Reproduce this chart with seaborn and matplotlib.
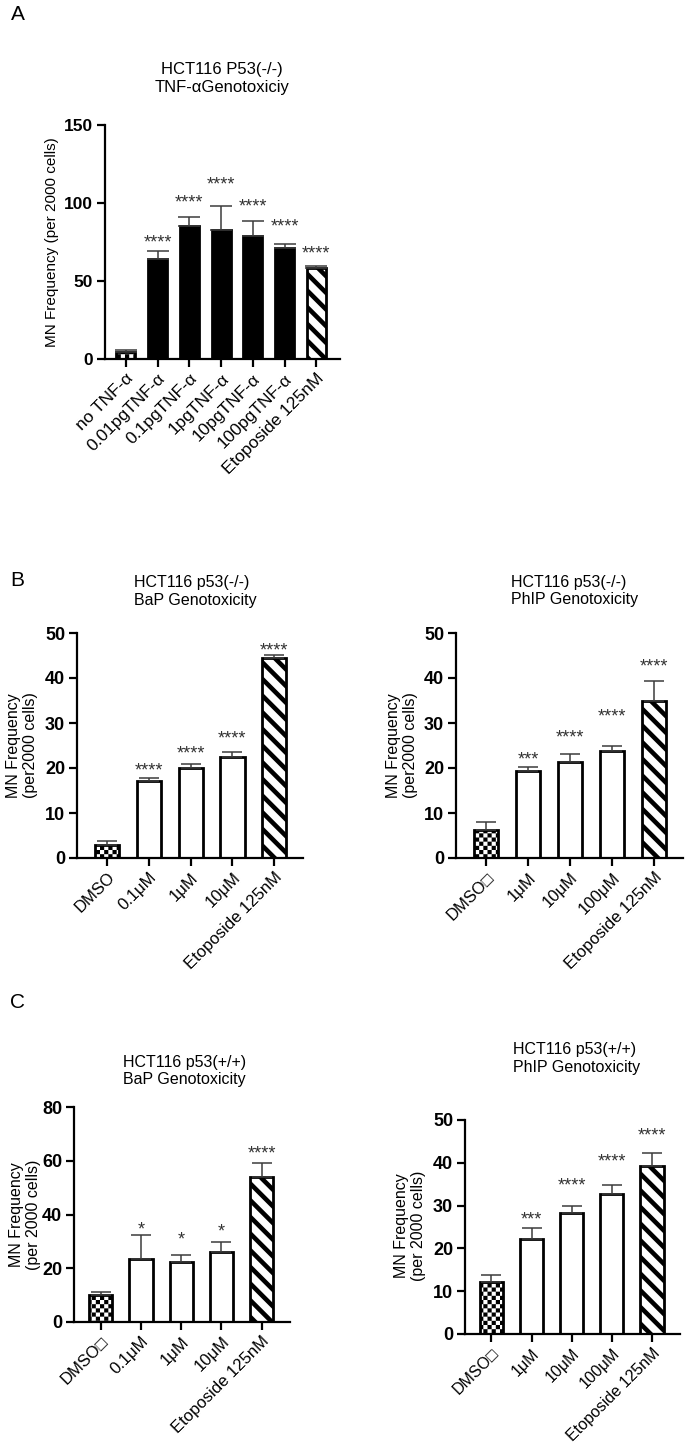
import numpy as np
import pandas as pd
import matplotlib
matplotlib.use("Agg")
import matplotlib.pyplot as plt
import matplotlib.hatch as mhatch
from matplotlib.path import Path
import seaborn as sns

# ---------------- data ----------------
a_labels = ["no TNF-α", "0.01pgTNF-α", "0.1pgTNF-α", "1pgTNF-α",
            "10pgTNF-α", "100pgTNF-α", "Etoposide 125nM"]
a_means = [4.3, 64.0, 85.4, 82.9, 78.8, 71.0, 58.5]
a_errs = [1.5, 5.4, 5.4, 15.1, 9.7, 2.9, 1.3]
a_stars = ["", "****", "****", "****", "****", "****", "****"]
a_star_y = [0, 78, 104, 115, 101, 88.5, 71]

bl_labels = ["DMSO", "0.1μM", "1μM", "10μM", "Etoposide 125nM"]
bl_means = [2.8, 17.1, 20.1, 22.4, 44.4]
bl_errs = [0.95, 0.7, 0.8, 1.2, 0.7]
bl_stars = ["", "****", "****", "****", "****"]
bl_star_y = [0, 20.7, 24.4, 27.8, 47.4]

br_labels = ["DMSO□", "1μM", "10μM", "100μM", "Etoposide 125nM"]
br_means = [6.3, 19.4, 21.4, 23.7, 34.8]
br_errs = [1.7, 0.8, 1.7, 1.1, 4.6]
br_stars = ["", "***", "****", "****", "****"]
br_star_y = [0, 23.0, 28.0, 32.6, 43.8]

cl_labels = ["DMSO□", "0.1μM", "1μM", "10μM", "Etoposide 125nM"]
cl_means = [10.1, 23.4, 22.4, 25.9, 54.0]
cl_errs = [1.2, 9.0, 2.6, 4.0, 5.3]
cl_stars = ["", "*", "*", "*", "****"]
cl_star_y = [0, 36.4, 32.7, 35.5, 64.5]

cr_labels = ["DMSO□", "1μM", "10μM", "100μM", "Etoposide 125nM"]
cr_means = [12.2, 22.2, 28.3, 32.8, 39.3]
cr_errs = [1.7, 2.6, 1.5, 1.9, 3.0]
cr_stars = ["", "***", "****", "****", "****"]
cr_star_y = [0, 27.9, 35.9, 41.6, 47.7]

# ---------------- checkerboard hatch ----------------
class CheckerHatch(mhatch.HatchPatternBase):
    def __init__(self, hatch, density):
        n = int(hatch.count('.') * density)
        if n % 2:
            n += 1
        self.n = n
        self.num_vertices = (n * n // 2) * 5

    def set_vertices_and_codes(self, vertices, codes):
        s = 1.0 / self.n
        sq = np.array([[0, 0], [s, 0], [s, s], [0, s], [0, 0]], float)
        cc = [Path.MOVETO, Path.LINETO, Path.LINETO, Path.LINETO, Path.CLOSEPOLY]
        k = 0
        for i in range(self.n):
            for j in range(self.n):
                if (i + j) % 2 == 0:
                    vertices[k:k + 5] = sq + [i * s, j * s]
                    codes[k:k + 5] = cc
                    k += 5

mhatch._hatch_types = [t for t in mhatch._hatch_types
                       if t is not mhatch.SmallFilledCircles] + [CheckerHatch]

# ---------------- style ----------------
sns.set_style("ticks")
plt.rcParams["font.family"] = ["Liberation Sans", "DejaVu Sans"]
plt.rcParams["hatch.linewidth"] = 3.3
plt.rcParams["text.color"] = "black"
plt.rcParams["axes.labelcolor"] = "black"

W, H = 686, 1448
fig = plt.figure(figsize=(W / 100, H / 100), dpi=100)

def fx(x):
    return x / W

def fy(y):
    return 1 - y / H

def rect(x0, y0, x1, y1):
    return [x0 / W, 1 - y1 / H, (x1 - x0) / W, (y1 - y0) / H]

def set_hlw(p, lw):
    if hasattr(p, "set_hatch_linewidth"):
        p.set_hatch_linewidth(lw)

def panel(box, labels, means, errs, stars, star_y, kinds, yticks, xlim,
          width, ytick_fs=13, xtick_fs=12, star_fs=13, capsize=7):
    ax = fig.add_axes(rect(*box))
    df = pd.DataFrame({"cond": labels, "mean": means})
    sns.barplot(data=df, x="cond", y="mean", ax=ax, color="black",
                errorbar=None, width=width, saturation=1)
    for p, k in zip(ax.patches, kinds):
        p.set_edgecolor("black")
        p.set_linewidth(2.0)
        if k == "solid":
            p.set_facecolor("black")
        elif k == "open":
            p.set_facecolor("white")
        elif k == "checker":
            p.set_facecolor("white")
            p.set_hatch("....")
            set_hlw(p, 0.01)
        elif k == "stripe":
            p.set_facecolor("white")
            p.set_hatch("\\\\")
            set_hlw(p, 3.3)
    centers = [p.get_x() + p.get_width() / 2 for p in ax.patches]
    ax.errorbar(centers, means, yerr=[np.zeros(len(errs)), errs], fmt="none",
                ecolor="#3c3c3c", elinewidth=1.1, capsize=capsize,
                capthick=1.1, zorder=3)
    for x, s, yv in zip(centers, stars, star_y):
        if s:
            ax.annotate(s, (x, yv), xytext=(0, -0.57 * star_fs),
                        textcoords="offset points", ha="center",
                        va="baseline", fontsize=star_fs, color="#333333")
    ax.set_xlim(*xlim)
    ax.set_ylim(yticks[0], yticks[-1])
    ax.set_yticks(yticks, labels=[str(t) for t in yticks],
                  fontweight="bold", fontsize=ytick_fs)
    ax.set_xticks(range(len(labels)))
    ax.set_xticklabels(labels, rotation=45, ha="right",
                       rotation_mode="anchor", fontsize=xtick_fs)
    ax.set_xlabel("")
    ax.set_ylabel("")
    sns.despine(ax=ax)
    for sp in ("left", "bottom"):
        ax.spines[sp].set_linewidth(1.6)
        ax.spines[sp].set_color("black")
    ax.tick_params(axis="both", direction="out", length=6, width=1.6,
                   color="black", labelcolor="black", pad=2.5)
    return ax

# Panel A
panel((105, 125, 340, 359), a_labels, a_means, a_errs, a_stars, a_star_y,
      ["checker", "solid", "solid", "solid", "solid", "solid", "stripe"],
      [0, 50, 100, 150], (-0.66, 6.75), 0.6, ytick_fs=12.5, xtick_fs=12.5,
      capsize=8)
fig.text(fx(222), fy(78.5), "HCT116 P53(-/-)\nTNF-αGenotoxiciy",
         ha="center", va="center", fontsize=12)
fig.text(fx(52), fy(242), "MN Frequency (per 2000 cells)", rotation=90,
         ha="center", va="center", fontsize=11)

kinds5 = ["checker", "open", "open", "open", "stripe"]
# Panel B
panel((77, 633, 303, 858), bl_labels, bl_means, bl_errs, bl_stars, bl_star_y,
      kinds5, [0, 10, 20, 30, 40, 50], (-0.72, 4.69), 0.58)
panel((456, 633, 683, 858), br_labels, br_means, br_errs, br_stars, br_star_y,
      kinds5, [0, 10, 20, 30, 40, 50], (-0.72, 4.69), 0.58)
fig.text(fx(134), fy(591.5), "HCT116 p53(-/-)\nBaP Genotoxicity",
         ha="left", va="center", fontsize=11.5)
fig.text(fx(511), fy(591), "HCT116 p53(-/-)\nPhIP Genotoxicity",
         ha="left", va="center", fontsize=11.5)
fig.text(fx(22), fy(745.5), "MN Frequency\n(per2000 cells)", rotation=90,
         ha="center", va="center", fontsize=11.5)
fig.text(fx(402), fy(745.5), "MN Frequency\n(per2000 cells)", rotation=90,
         ha="center", va="center", fontsize=11.5)

# Panel C
panel((74, 1107, 290, 1322), cl_labels, cl_means, cl_errs, cl_stars, cl_star_y,
      kinds5, [0, 20, 40, 60, 80], (-0.66, 4.70), 0.58)
panel((465, 1120, 680, 1334), cr_labels, cr_means, cr_errs, cr_stars, cr_star_y,
      kinds5, [0, 10, 20, 30, 40, 50], (-0.66, 4.70), 0.58, xtick_fs=11.5)
fig.text(fx(123), fy(1071), "HCT116 p53(+/+)\nBaP Genotoxicity",
         ha="left", va="center", fontsize=11.5)
fig.text(fx(513), fy(1058.5), "HCT116 p53(+/+)\nPhIP Genotoxicity",
         ha="left", va="center", fontsize=11.5)
fig.text(fx(25), fy(1215), "MN Frequency\n(per 2000 cells)", rotation=90,
         ha="center", va="center", fontsize=11.5)
fig.text(fx(410), fy(1226), "MN Frequency\n(per 2000 cells)", rotation=90,
         ha="center", va="center", fontsize=11.5)

# Panel letters
fig.text(fx(11), fy(15), "A", ha="left", va="center", fontsize=15)
fig.text(fx(10), fy(581), "B", ha="left", va="center", fontsize=15)
fig.text(fx(10), fy(1003), "C", ha="left", va="center", fontsize=15)

fig.savefig("out.png", dpi=100)
